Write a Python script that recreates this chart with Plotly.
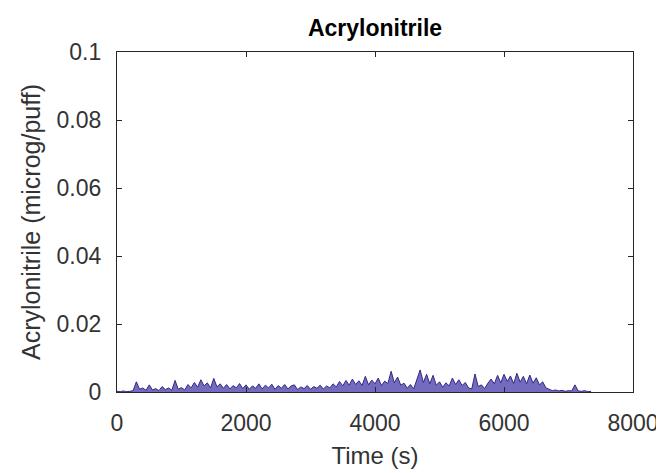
import plotly.graph_objects as go

# Time stamps (s) and Acrylonitrile yield (microg/puff)
time_s = [
    0, 50, 100, 150, 200, 250, 300, 350, 400, 450, 500, 550, 600, 650, 700, 750,
    800, 850, 900, 950, 1000, 1050, 1100, 1150, 1200, 1250, 1300, 1350, 1400, 1450,
    1500, 1550, 1600, 1650, 1700, 1750, 1800, 1850, 1900, 1950, 2000, 2050, 2100,
    2150, 2200, 2250, 2300, 2350, 2400, 2450, 2500, 2550, 2600, 2650, 2700, 2750,
    2800, 2850, 2900, 2950, 3000, 3050, 3100, 3150, 3200, 3250, 3300, 3350, 3400,
    3450, 3500, 3550, 3600, 3650, 3700, 3750, 3800, 3850, 3900, 3950, 4000, 4050,
    4100, 4150, 4200, 4250, 4300, 4350, 4400, 4450, 4500, 4550, 4600, 4650, 4700,
    4750, 4800, 4850, 4900, 4950, 5000, 5050, 5100, 5150, 5200, 5250, 5300, 5350,
    5400, 5450, 5500, 5550, 5600, 5650, 5700, 5750, 5800, 5850, 5900, 5950, 6000,
    6050, 6100, 6150, 6200, 6250, 6300, 6350, 6400, 6450, 6500, 6550, 6600, 6650,
    6700, 6750, 6800, 6850, 6900, 6950, 7000, 7050, 7100, 7150, 7200, 7250, 7300,
    7350,
]
acrylonitrile = [
    0.0002, 0.0001, 0.0003, 0.0001, 0.0002, 0.0004, 0.0030, 0.0008, 0.0012, 0.0005,
    0.0021, 0.0006, 0.0010, 0.0004, 0.0016, 0.0007, 0.0012, 0.0005, 0.0034, 0.0008,
    0.0013, 0.0006, 0.0022, 0.0012, 0.0028, 0.0014, 0.0036, 0.0018, 0.0027, 0.0012,
    0.0040, 0.0015, 0.0024, 0.0011, 0.0022, 0.0009, 0.0019, 0.0012, 0.0025, 0.0010,
    0.0021, 0.0008, 0.0018, 0.0011, 0.0024, 0.0009, 0.0020, 0.0012, 0.0023, 0.0008,
    0.0019, 0.0011, 0.0022, 0.0009, 0.0018, 0.0021, 0.0007, 0.0015, 0.0010, 0.0019,
    0.0008, 0.0016, 0.0011, 0.0020, 0.0009, 0.0018, 0.0012, 0.0024, 0.0015, 0.0031,
    0.0018, 0.0034, 0.0020, 0.0038, 0.0022, 0.0033, 0.0019, 0.0046, 0.0021, 0.0035,
    0.0024, 0.0041, 0.0019, 0.0032, 0.0025, 0.0061, 0.0027, 0.0044, 0.0020, 0.0026,
    0.0011, 0.0022, 0.0009, 0.0035, 0.0065, 0.0028, 0.0052, 0.0024, 0.0049, 0.0020,
    0.0030, 0.0014, 0.0027, 0.0018, 0.0041, 0.0022, 0.0036, 0.0019, 0.0028, 0.0012,
    0.0009, 0.0053, 0.0016, 0.0021, 0.0010, 0.0026, 0.0038, 0.0024, 0.0049, 0.0027,
    0.0052, 0.0031, 0.0047, 0.0025, 0.0055, 0.0029, 0.0046, 0.0024, 0.0050, 0.0026,
    0.0042, 0.0021, 0.0030, 0.0012, 0.0008, 0.0004, 0.0006, 0.0003, 0.0005, 0.0002,
    0.0004, 0.0003, 0.0021, 0.0003, 0.0002, 0.0004, 0.0001, 0.0002,
]

x_ticks = [0, 2000, 4000, 6000, 8000]
y_ticks = [0, 0.02, 0.04, 0.06, 0.08, 0.1]
y_tick_text = ["0", "0.02", "0.04", "0.06", "0.08", "0.1"]

FONT = "Liberation Sans, Arial, sans-serif"
INK = "#333333"

# The page body has an 8px margin, so the figure is drawn 8px smaller.
W, H = 656, 465

fig = go.Figure()
fig.add_trace(go.Scatter(
    x=time_s, y=acrylonitrile, mode="lines",
    line=dict(color="rgb(48,40,130)", width=1),
    fill="tozeroy", fillcolor="rgba(70,58,170,0.75)",
    showlegend=False, hoverinfo="skip",
))

axis_common = dict(
    showgrid=False, zeroline=False, showline=True, mirror="ticks",
    linecolor="#262626", linewidth=1.3, ticks="inside", ticklen=5, tickwidth=1,
    tickcolor="#262626", tickfont=dict(family=FONT, size=23, color=INK),
    automargin=False,
)

fig.update_layout(
    width=W, height=H,
    margin=dict(l=109, r=31, t=44, b=81),
    paper_bgcolor="white", plot_bgcolor="white",
    title=dict(text="<b>Acrylonitrile</b>", x=(109 + W - 31) / 2 / W, xanchor="center",
               y=1 - 20 / H, yanchor="middle",
               font=dict(family=FONT, size=23, color="black")),
    xaxis=dict(range=[0, 8000], tickvals=x_ticks, ticktext=[str(v) for v in x_ticks],
               ticklabelstandoff=10,
               title=dict(text="Time (s)", font=dict(family=FONT, size=24, color=INK),
                          standoff=12),
               **axis_common),
    yaxis=dict(range=[0, 0.1], tickvals=y_ticks, ticktext=y_tick_text,
               ticklabelstandoff=10,
               title=dict(text="Acrylonitrile (microg/puff)",
                          font=dict(family=FONT, size=25, color=INK), standoff=8),
               **axis_common),
)

fig.write_html("out.html")
